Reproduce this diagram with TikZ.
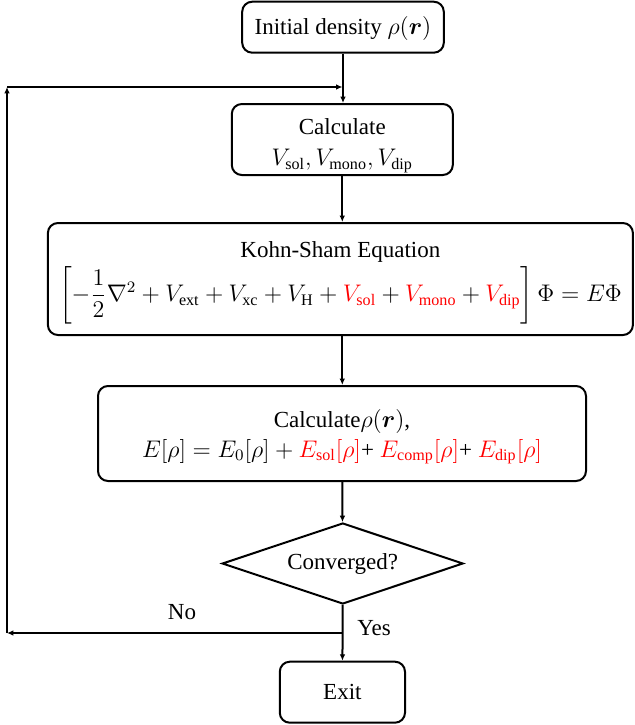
\documentclass[tikz,border=0pt]{standalone}
\usepackage{amsmath}
\usepackage{fontspec}
\setmainfont{Liberation Serif}
\usepackage{tikz}
\usetikzlibrary{arrows.meta,shapes.geometric}

\begin{document}
\begin{tikzpicture}[x=0.5pt, y=-0.5pt, font=\fontsize{11.5}{13.8}\selectfont,
	box/.style={draw, line width=1pt, rounded corners=5pt, align=center, inner sep=0pt},
	decision/.style={draw, line width=1pt, diamond, aspect=3, inner sep=0pt, minimum width=120.5pt, minimum height=40.5pt},
	lbl/.style={inner sep=0pt},
	flow/.style={line width=1pt, -{Latex[length=3.2pt,width=2.8pt]}}]
	\useasboundingbox (0,0) rectangle (634,725);
	\node[box, minimum width=100.8pt, minimum height=25.5pt](Init) at (343, 27.2) {\rule{0pt}{10pt}Initial density $\rho(\boldsymbol{r})$};
	\node[box, minimum width=110.5pt, minimum height=35.5pt](Calc) at (342.3, 139.5) {\rule{0pt}{14pt}Calculate\\[2pt] $V_{\mathrm{sol}}, V_{\mathrm{mono}}, V_{\mathrm{dip}}$};
	\node[box, minimum width=292.5pt, minimum height=56pt](KS) at (340.4, 279) {\rule{0pt}{12pt}Kohn-Sham Equation\\[1pt] $\left[-\dfrac{1}{2}\nabla^2 + V_{\mathrm{ext}} + V_{\mathrm{xc}} + V_{\mathrm{H}} + \textcolor{red}{V_{\mathrm{sol}}} + \textcolor{red}{V_{\mathrm{mono}}} + \textcolor{red}{V_{\mathrm{dip}}}\right]\Phi = E\Phi$};
	\node[box, minimum width=244pt, minimum height=47.5pt](Rho) at (342, 433.5) {\rule{0pt}{12.5pt}Calculate$\rho(\boldsymbol{r})$,\\[1pt] $E[\rho] = E_0[\rho] + \textcolor{red}{E_{\mathrm{sol}}[\rho]}\text{+ }\textcolor{red}{E_{\mathrm{comp}}[\rho]}\text{+ }\textcolor{red}{E_{\mathrm{dip}}[\rho]}$};
	\node[decision](Conv) at (342.7, 563.5) {Converged?};
	\node[box, minimum width=62.6pt, minimum height=30.5pt](Exit) at (342.4, 692.2) {Exit};
	\node[lbl](No) at (182, 612) {No};
	\node[lbl](Yes) at (374, 628) {Yes};
	\coordinate(Turn) at (342.5, 633);
	\coordinate(BL) at (7, 633);
	\coordinate(TL) at (7, 87);
	\coordinate(Join) at (342.5, 87);
	\draw[flow](Init) -- (Init |- Calc.north);
	\draw[flow](Calc) -- (Calc |- KS.north);
	\draw[flow](Calc |- KS.south) -- (Calc |- Rho.north);
	\draw[flow](Rho) -- (Conv);
	\draw[flow](Conv) -- (Exit);
	\draw[flow](Turn) -- (BL);
	\draw[flow](BL) -- (TL);
	\draw[flow](TL) -- (Join);
\end{tikzpicture}
\end{document}
